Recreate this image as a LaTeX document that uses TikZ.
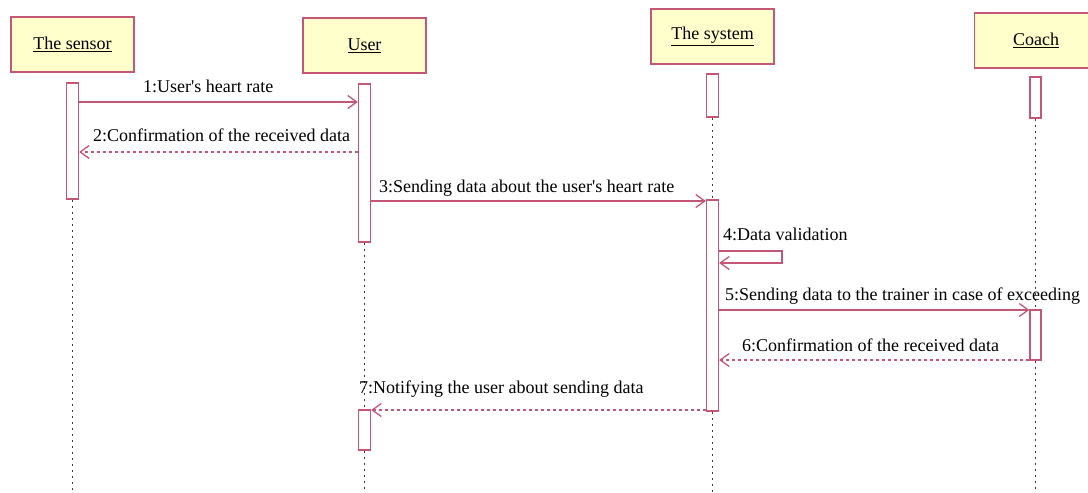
\documentclass[tikz,border=0pt]{standalone}
\usepackage{fontspec}
\setmainfont{Liberation Serif}
\usetikzlibrary{arrows.meta}

\definecolor{umlred}{RGB}{196,86,118}
\definecolor{umlfill}{RGB}{255,255,204}
\definecolor{lifegray}{RGB}{60,60,60}

\begin{document}
\begin{tikzpicture}[x=1pt, y=-1pt,
	font=\fontsize{18}{20}\selectfont,
	head/.style={draw=umlred, fill=umlfill, line width=1.5pt, minimum width=123pt, minimum height=55pt, inner sep=0pt},
	bar/.style={draw=umlred, fill=white, line width=1.3pt, minimum width=12pt, inner sep=0pt},
	life/.style={draw=lifegray, line width=1.5pt, dash pattern=on 2.5pt off 3.5pt},
	call/.style={draw=umlred, line width=1.3pt, -{Straight Barb[length=9pt, width=13pt, line width=1.3pt]}},
	reply/.style={call, dash pattern=on 3pt off 3pt},
	lbl/.style={anchor=base west, inner sep=0pt}]
	\useasboundingbox (0,0) rectangle (1088,493);

	% Instances/Symbols:
	\node[head] (sensor) at (72.5, 44.5) {\underline{The sensor}};
	\node[head] (user) at (364.5, 45.5) {\underline{User}};
	\node[head] (system) at (712.5, 36.5) {\underline{The system}};
	\node[head] (coach) at (1036, 40.5) {\underline{Coach}};

	% Activations:
	\node[bar, minimum height=116pt] (sbar) at (72.5, 141) {};
	\node[bar, minimum height=158pt] (ubar1) at (364.5, 163) {};
	\node[bar, minimum height=40pt] (ubar2) at (364.5, 430) {};
	\node[bar, minimum height=43pt] (ybar1) at (712.5, 95.5) {};
	\node[bar, minimum height=211pt] (ybar2) at (712.5, 305.5) {};
	\node[bar, minimum width=11pt, minimum height=41pt] (cbar1) at (1035.5, 97.5) {};
	\node[bar, minimum width=11pt, minimum height=50pt] (cbar2) at (1035.5, 335) {};

	% Lifelines:
	\draw[life] (sbar.south) -- (sbar.south |- 0,493);
	\draw[life] (ubar1.south) -- (ubar2.north);
	\draw[life] (ubar2.south) -- (ubar2.south |- 0,493);
	\draw[life] (ybar1.south) -- (ybar2.north);
	\draw[life] (ybar2.south) -- (ybar2.south |- 0,493);
	\draw[life] (cbar1.south) -- (cbar2.north);
	\draw[life] (cbar2.south) -- (cbar2.south |- 0,493);

	% Messages:
	\draw[call] (sbar.east |- 0,102) -- (ubar1.west |- 0,102);
	\draw[reply] (ubar1.west |- 0,152) -- (sbar.east |- 0,152);
	\draw[call] (ubar1.east |- 0,201) -- (ybar2.west |- 0,201);
	\draw[call] (ybar2.east |- 0,251) -- (782,251) -- (782,263) -- (ybar2.east |- 0,263);
	\draw[call] (ybar2.east |- 0,310) -- (cbar2.west |- 0,310);
	\draw[reply] (cbar2.west |- 0,360) -- (ybar2.east |- 0,360);
	\draw[reply] (ybar2.west |- 0,410) -- (ubar2.east |- 0,410);

	% Labels:
	\node[lbl] (l1) at (143, 92) {1:User\textquotesingle s heart rate};
	\node[lbl] (l2) at (93, 141) {2:Confirmation of the received data};
	\node[lbl] (l3) at (379, 192) {3:Sending data about the user\textquotesingle s heart rate};
	\node[lbl] (l4) at (723, 240) {4:Data validation};
	\node[lbl] (l5) at (725, 300) {5:Sending data to the trainer in case of exceeding};
	\node[lbl] (l6) at (742, 351) {6:Confirmation of the received data};
	\node[lbl] (l7) at (359, 393) {7:Notifying the user about sending data};

\end{tikzpicture}
\end{document}
